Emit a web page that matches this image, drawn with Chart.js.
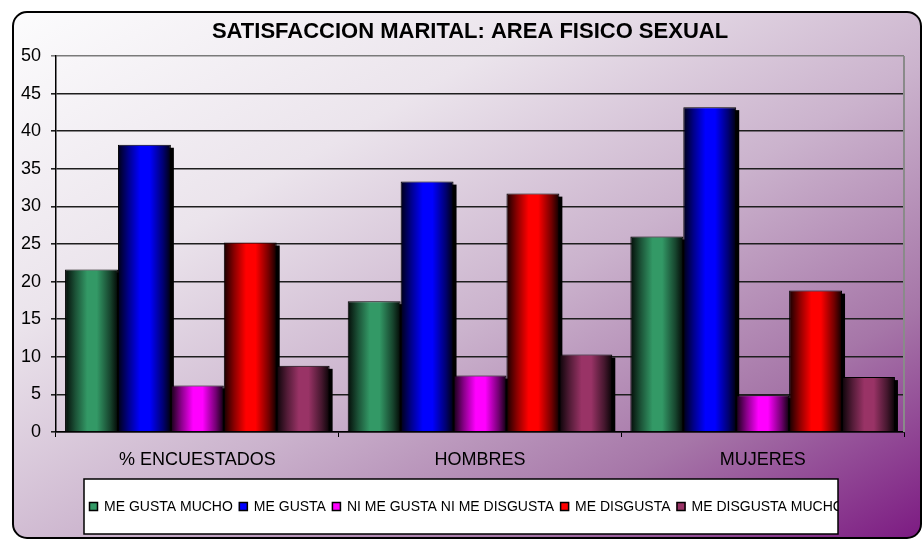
<!DOCTYPE html>
<html>
<head>
<meta charset="utf-8">
<script src="https://cdn.jsdelivr.net/npm/chart.js@4/dist/chart.umd.min.js"></script>
<style>
  html, body { margin: 0; padding: 0; background: #ffffff; }
  #wrap { width: 923px; height: 539px; position: relative; }
</style>
</head>
<body>
<div id="wrap"><canvas id="c" width="923" height="539"></canvas></div>
<script>
const chartTitle = 'SATISFACCION MARITAL: AREA FISICO SEXUAL';
const categories = ['% ENCUESTADOS', 'HOMBRES', 'MUJERES'];
const seriesNames = ['ME GUSTA MUCHO', 'ME GUSTA', 'NI ME GUSTA NI ME DISGUSTA', 'ME DISGUSTA', 'ME DISGUSTA MUCHO'];
const meGustaMucho = [21.6, 17.4, 26.0];
const meGusta = [38.2, 33.3, 43.2];
const niMeGustaNiMeDisgusta = [6.2, 7.5, 4.9];
const meDisgusta = [25.2, 31.7, 18.8];
const meDisgustaMucho = [8.8, 10.3, 7.3];
const yMin = 0, yMax = 50, yStep = 5;

const seriesValues = [meGustaMucho, meGusta, niMeGustaNiMeDisgusta, meDisgusta, meDisgustaMucho];
const seriesColors = [[51,153,102],[0,0,255],[255,0,255],[255,0,0],[153,51,102]];
const CAT_PCT = 0.936;
const FONT = '"Liberation Sans", Arial, sans-serif';

function rgb(c, f) {
  return 'rgb(' + Math.round(c[0]*f) + ',' + Math.round(c[1]*f) + ',' + Math.round(c[2]*f) + ')';
}

function barFill(si) {
  return function(c) {
    const col = seriesColors[si];
    const chart = c.chart;
    const area = chart.chartArea;
    if (!area || c.type !== 'data') return rgb(col, 1);
    const xs = chart.scales.x;
    const catW = (area.right - area.left) / categories.length;
    const group = catW * CAT_PCT;
    const bw = group / seriesValues.length;
    const center = xs.getPixelForValue(c.dataIndex);
    const left = center - group / 2 + c.datasetIndex * bw;
    const g = chart.ctx.createLinearGradient(left, 0, left + bw, 0);
    g.addColorStop(0, rgb(col, 0.08));
    g.addColorStop(0.2, rgb(col, 0.55));
    g.addColorStop(0.42, rgb(col, 1));
    g.addColorStop(0.6, rgb(col, 1));
    g.addColorStop(0.85, rgb(col, 0.45));
    g.addColorStop(1, rgb(col, 0.05));
    return g;
  };
}

const datasets = seriesNames.map((name, i) => ({
  label: name,
  data: seriesValues[i],
  backgroundColor: barFill(i),
  borderColor: '#000000',
  borderWidth: 1,
  borderSkipped: 'bottom',
  barPercentage: 1.0,
  categoryPercentage: CAT_PCT
}));

const decorPlugin = {
  id: 'decor',
  beforeDraw(chart) {
    const ctx = chart.ctx;
    ctx.save();
    ctx.fillStyle = '#ffffff';
    ctx.fillRect(0, 0, chart.width, chart.height);
    const x0 = 13, y0 = 12, x1 = 921, y1 = 538, r = 14;
    ctx.beginPath();
    ctx.moveTo(x0 + r, y0);
    ctx.lineTo(x1 - r, y0);
    ctx.arcTo(x1, y0, x1, y0 + r, r);
    ctx.lineTo(x1, y1 - r);
    ctx.arcTo(x1, y1, x1 - r, y1, r);
    ctx.lineTo(x0 + r, y1);
    ctx.arcTo(x0, y1, x0, y1 - r, r);
    ctx.lineTo(x0, y0 + r);
    ctx.arcTo(x0, y0, x0 + r, y0, r);
    ctx.closePath();
    const g = ctx.createLinearGradient(13, 12, 469, 800);
    g.addColorStop(0, '#fcfcfd');
    g.addColorStop(0.3, '#ebe4ec');
    g.addColorStop(0.55, '#cbb3cd');
    g.addColorStop(0.78, '#a676a8');
    g.addColorStop(1, '#7c1a82');
    ctx.fillStyle = g;
    ctx.fill();
    ctx.lineWidth = 2;
    ctx.strokeStyle = '#000000';
    ctx.stroke();
    ctx.restore();
  },
  beforeDatasetsDraw(chart) {
    const ctx = chart.ctx;
    const area = chart.chartArea;
    ctx.save();
    ctx.strokeStyle = '#8a8a8a';
    ctx.lineWidth = 2;
    ctx.beginPath();
    ctx.moveTo(area.right, area.top);
    ctx.lineTo(area.right, area.bottom);
    ctx.stroke();
    ctx.fillStyle = '#000000';
    chart.data.datasets.forEach((ds, di) => {
      const meta = chart.getDatasetMeta(di);
      meta.data.forEach(el => {
        const p = el.getProps(['x', 'y', 'base', 'width'], true);
        const left = p.x - p.width / 2 + 3;
        const top = p.y + 3;
        if (p.base - top > 0) ctx.fillRect(left, top, p.width, p.base - top);
      });
    });
    ctx.restore();
  },
  afterDraw(chart) {
    const ctx = chart.ctx;
    ctx.save();
    ctx.fillStyle = '#000000';
    ctx.font = 'bold 22px ' + FONT;
    ctx.textAlign = 'center';
    ctx.textBaseline = 'middle';
    ctx.fillText(chartTitle, 470, 32);
    const bx = 84, by = 479, bw = 754, bh = 55;
    ctx.fillStyle = '#ffffff';
    ctx.fillRect(bx, by, bw, bh);
    ctx.beginPath();
    ctx.rect(bx, by, bw, bh);
    ctx.clip();
    ctx.font = '14px ' + FONT;
    ctx.textAlign = 'left';
    ctx.textBaseline = 'middle';
    let x = 89;
    const cy = 507;
    seriesNames.forEach((name, i) => {
      ctx.fillStyle = rgb(seriesColors[i], 1);
      ctx.fillRect(x, cy - 5, 9, 9);
      ctx.strokeStyle = '#000000';
      ctx.lineWidth = 1.5;
      ctx.strokeRect(x + 0.5, cy - 4.5, 8, 8);
      ctx.fillStyle = '#000000';
      ctx.fillText(name, x + 15, cy);
      x = x + 15 + ctx.measureText(name).width + 6;
    });
    ctx.restore();
    ctx.save();
    ctx.strokeStyle = '#000000';
    ctx.lineWidth = 1.5;
    ctx.strokeRect(bx, by, bw, bh);
    ctx.restore();
  }
};

new Chart(document.getElementById('c'), {
  type: 'bar',
  data: { labels: categories, datasets: datasets },
  options: {
    responsive: false,
    animation: false,
    devicePixelRatio: 1,
    layout: { padding: { left: 14, right: 19, top: 56, bottom: 0 } },
    plugins: {
      legend: { display: false },
      title: { display: false },
      tooltip: { enabled: false }
    },
    scales: {
      x: {
        afterFit(s) { s.height = 107; },
        grid: {
          offset: true,
          drawOnChartArea: false,
          drawTicks: true,
          tickLength: 5,
          color: '#000000',
          lineWidth: 1
        },
        border: { display: true, color: '#000000', width: 1.5 },
        ticks: {
          color: '#000000',
          padding: 12,
          font: { family: FONT, size: 18 }
        }
      },
      y: {
        min: yMin,
        max: yMax,
        afterFit(s) { s.width = 42; },
        ticks: {
          stepSize: yStep,
          color: '#000000',
          padding: 10,
          font: { family: FONT, size: 18 }
        },
        grid: {
          drawTicks: true,
          tickLength: 5,
          color: (c) => (c.tick && c.tick.value === yMax) ? '#7a7a7a' : '#1e1e1e',
          lineWidth: 1.6
        },
        border: { display: true, color: '#000000', width: 1.5 }
      }
    }
  },
  plugins: [decorPlugin]
});
</script>
</body>
</html>
